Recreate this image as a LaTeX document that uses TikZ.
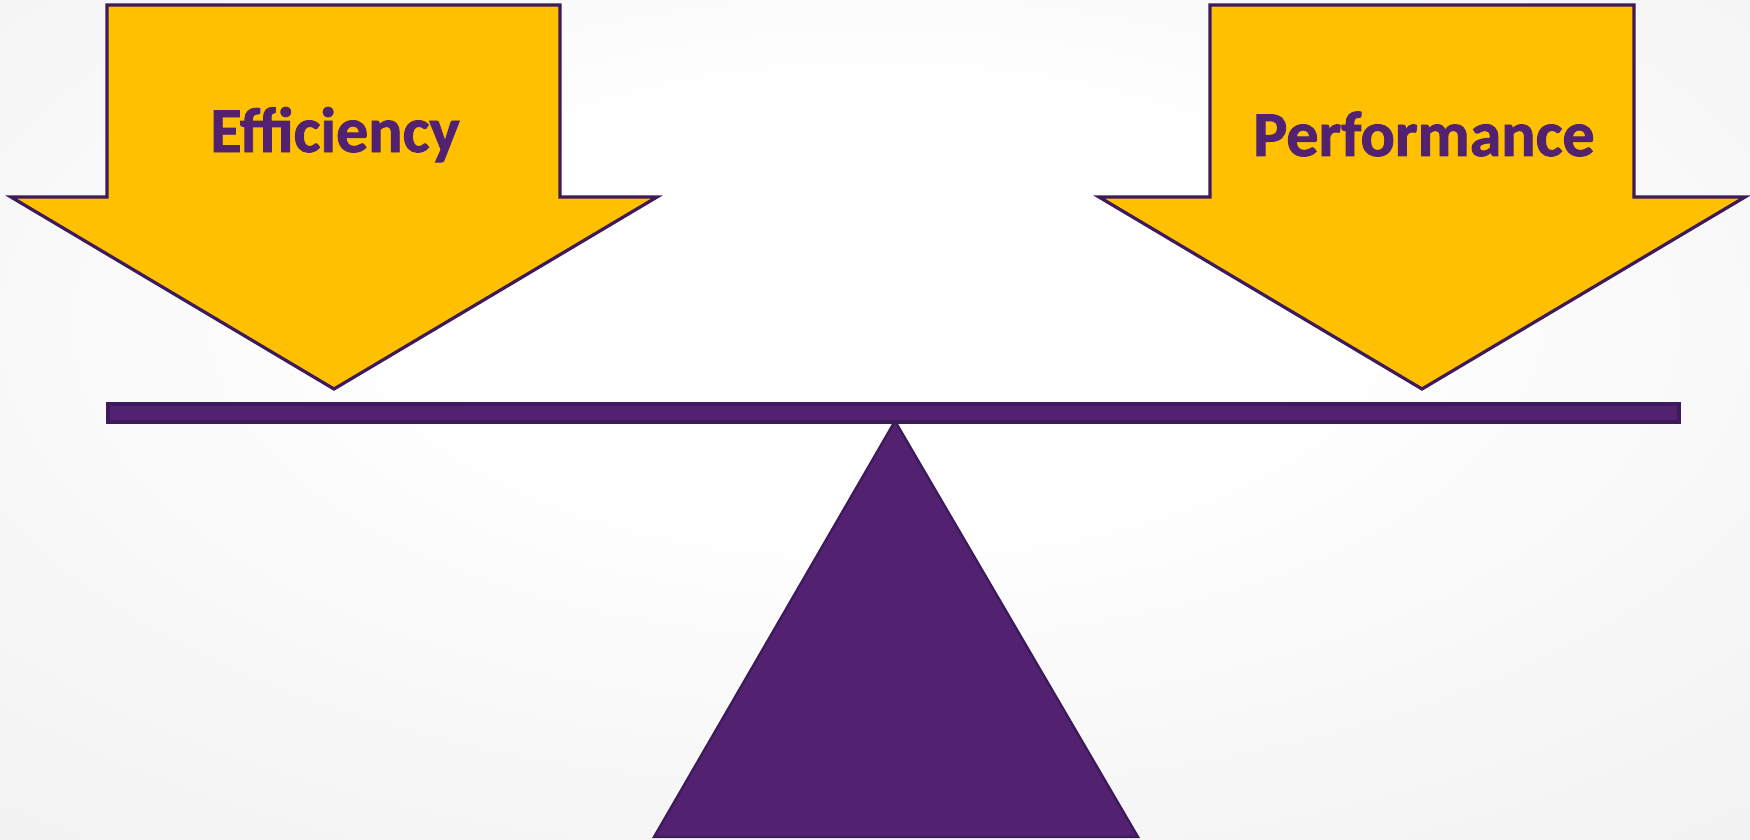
\documentclass[tikz,border=0pt]{standalone}
\usepackage{fontspec}
\setmainfont{Carlito}[BoldFeatures={FakeBold=1.4}]
\definecolor{goldfill}{HTML}{FFC000}
\definecolor{purpleline}{HTML}{3E1A5C}
\definecolor{purplefill}{HTML}{522270}
\definecolor{bgmid}{HTML}{EBECEB}
\definecolor{bgedge}{HTML}{DCDEDC}
\pgfdeclareradialshading{bgshade}{\pgfpoint{0bp}{8bp}}{color(0bp)=(white); color(12bp)=(white); color(50bp)=(bgmid); color(80bp)=(bgedge)}
\tikzset{
  weightarrow/.style={fill=goldfill, draw=purpleline, line width=3.2pt, line join=miter},
  beamshape/.style={fill=purplefill, draw=purpleline, line width=3.2pt},
  pivotshape/.style={fill=purplefill, draw=purpleline, line width=2.4pt, line join=miter},
  label/.style={text=purplefill, font=\fontsize{64}{76}\selectfont\bfseries, anchor=base, inner sep=0pt}
}
\begin{document}
\begin{tikzpicture}[x=1pt,y=-1pt]
\shade[shading=bgshade] (0,0) rectangle (1750,840);
\useasboundingbox (0,0) rectangle (1750,840);
% left arrow
\draw[weightarrow] (107,5) -- (560,5) -- (560,197) -- (657,197) -- (334,389) -- (11,197) -- (107,197) -- cycle;
% right arrow
\draw[weightarrow] (1210,5) -- (1634,5) -- (1634,197) -- (1745,197) -- (1422,389) -- (1099,197) -- (1210,197) -- cycle;
% pivot
\draw[pivotshape] (895,421) -- (1138,837) -- (654,837) -- cycle;
% beam
\draw[beamshape] (108,404) rectangle (1679,422);
\node[label] (eff) at (335,152) {Efficiency};
\node[label] (perf) at (1424,156) {Performance};
\end{tikzpicture}
\end{document}
